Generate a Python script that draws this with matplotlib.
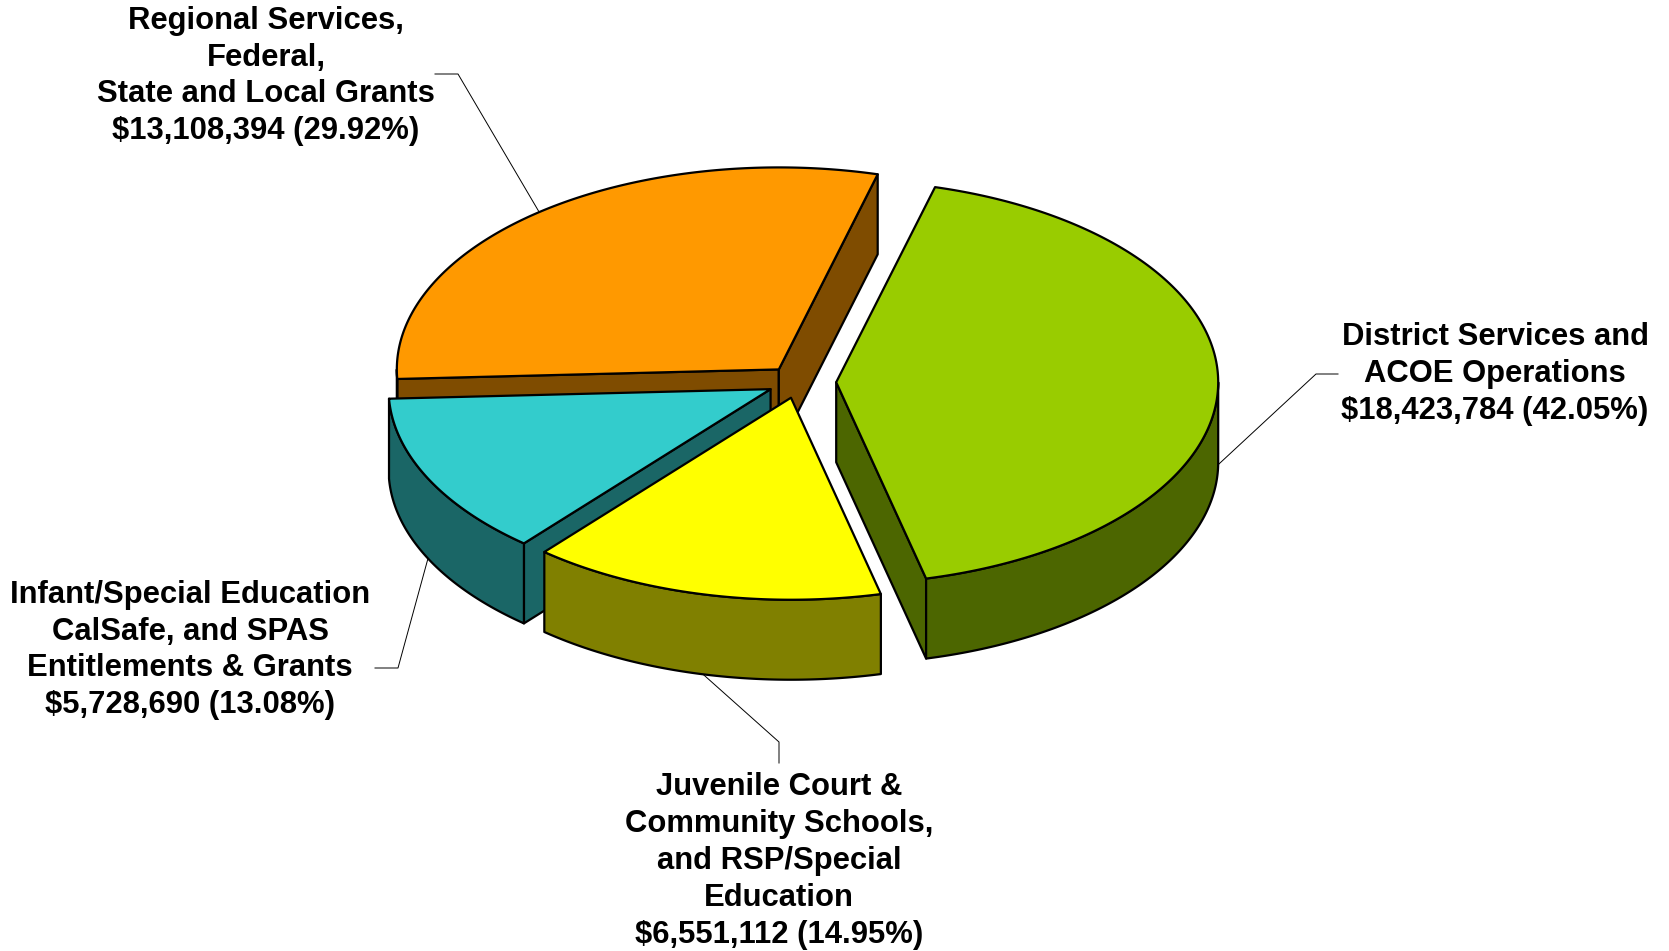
import numpy as np
import matplotlib.pyplot as plt
from matplotlib.patches import Polygon

# data
names = ["District Services and\nACOE Operations",
         "Juvenile Court &\nCommunity Schools,\nand RSP/Special\nEducation",
         "Infant/Special Education\nCalSafe, and SPAS\nEntitlements & Grants",
         "Regional Services,\nFederal,\nState and Local Grants"]
amounts = [18423784, 6551112, 5728690, 13108394]
percents = [42.05, 14.95, 13.08, 29.92]

# style
top_colors = ["#99CC00", "#FFFF00", "#33CCCC", "#FF9900"]
side_colors = ["#4C6600", "#808000", "#1A6666", "#7F4C00"]
explode = [0.10, 0.08, 0.08, 0.08]

# layout (pixel units of the 1669x951 image)
W, H = 1669, 951
cx, cy = 798, 382
a, b = 382, 202
depth = 80
start_angle = 75
label_xy = [(1495, 374), (779, 861), (190, 650), (266, 76)]
elbows = [[(1338, 374), (1316, 374)],
          [(779, 763), (779, 742)],
          [(375, 668), (398, 668)],
          [(435, 74), (458, 74)]]


def arc(ox, oy, t0, t1, z=0.0, n=200):
    t = np.radians(np.linspace(t0, t1, n))
    return np.column_stack([ox + a * np.cos(t), oy - b * np.sin(t) + z])


def front_ranges(t_lo, t_hi):
    # parts of [t_lo, t_hi] where the outer wall faces the viewer
    out = []
    for k in range(-3, 3):
        lo = max(t_lo, 180 + 360 * k)
        hi = min(t_hi, 360 + 360 * k)
        if hi > lo:
            out.append((lo, hi))
    return out


fig = plt.figure(figsize=(W / 100, H / 100), dpi=100)
ax = fig.add_axes([0, 0, 1, 1])
ax.set_xlim(0, W)
ax.set_ylim(H, 0)
ax.axis('off')

total = sum(amounts)
spans = [360 * v / total for v in amounts]
slices = []
t_hi = start_angle
for i, sp in enumerate(spans):
    t_lo = t_hi - sp
    mid = np.radians((t_hi + t_lo) / 2)
    ox = cx + explode[i] * a * np.cos(mid)
    oy = cy - explode[i] * b * np.sin(mid)
    slices.append((i, t_lo, t_hi, mid, ox, oy))
    t_hi = t_lo

edge = dict(edgecolor='black', linewidth=1.6, joinstyle='round')

# back slices first
for i, t_lo, t_hi, mid, ox, oy in sorted(slices, key=lambda s: -np.sin(s[3])):
    z = 10 + (1 - np.sin(mid))
    # radial faces
    for t, visible in ((t_hi, np.cos(np.radians(t_hi)) < 0),
                       (t_lo, np.cos(np.radians(t_lo)) > 0)):
        if visible:
            p = arc(ox, oy, t, t, n=1)[0]
            face = [(ox, oy), tuple(p), (p[0], p[1] + depth), (ox, oy + depth)]
            ax.add_patch(Polygon(face, closed=True, facecolor=side_colors[i], zorder=z, **edge))
    # outer wall
    for lo, hi in front_ranges(t_lo, t_hi):
        top = arc(ox, oy, lo, hi)
        bot = arc(ox, oy, hi, lo, z=depth)
        ax.add_patch(Polygon(np.vstack([top, bot]), closed=True,
                             facecolor=side_colors[i], zorder=z, **edge))
    # top
    pts = np.vstack([[ox, oy], arc(ox, oy, t_lo, t_hi)])
    ax.add_patch(Polygon(pts, closed=True, facecolor=top_colors[i], zorder=z + 0.5, **edge))

    # label and leader line
    anchor = arc(ox, oy, np.degrees(mid), np.degrees(mid), n=1)[0]
    if np.sin(mid) < 0:
        anchor[1] += depth
    (x0, y0), (x1, y1) = elbows[i]
    ax.plot([x0, x1, anchor[0]], [y0, y1, anchor[1]], color='black', lw=0.7, zorder=30)
    text = names[i] + "\n${:,} ({:.2f}%)".format(amounts[i], percents[i])
    ax.text(label_xy[i][0], label_xy[i][1], text, ha='center', va='center',
            fontsize=22.3, fontweight='bold', family='Liberation Sans',
            linespacing=1.3, parse_math=False, zorder=31)

fig.savefig('out.png', dpi=100)
